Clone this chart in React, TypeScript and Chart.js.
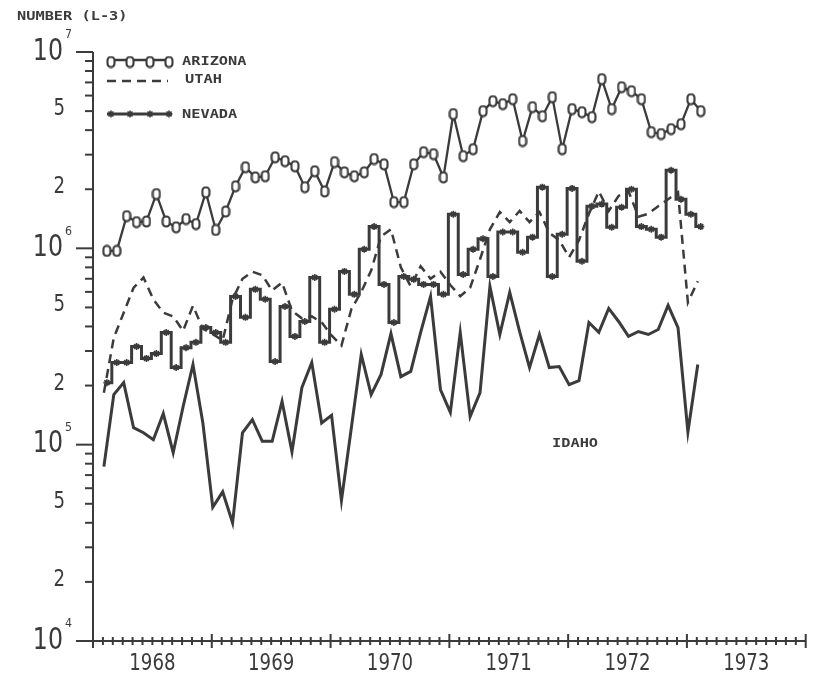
import { useEffect, useRef } from "react";
import { Chart, registerables } from "chart.js";
Chart.register(...registerables);

const INK = "#3b3b3b";

// ---- data (monthly, Jan 1968 .. Jan 1973) ----
const yearLabels = ["1968", "1969", "1970", "1971", "1972", "1973"];
const axisMonths = 72; // 1968.0 .. 1974.0
const offsetArizona = 1.4; // plotting position of point i, in months from 1968.0
const offsetIdaho = 1.1;

const arizona = [
  970000, 970000, 1460000, 1360000, 1370000, 1890000, 1370000, 1280000, 1410000, 1330000,
  1930000, 1240000, 1540000, 2070000, 2590000, 2300000, 2330000, 2910000, 2780000, 2620000,
  2050000, 2470000, 1950000, 2750000, 2440000, 2330000, 2440000, 2850000, 2680000, 1720000,
  1720000, 2680000, 3090000, 3020000, 2300000, 4830000, 2950000, 3200000, 5000000, 5620000,
  5430000, 5750000, 3520000, 5240000, 4710000, 5890000, 3200000, 5120000, 4940000, 4660000,
  7280000, 5120000, 6620000, 6320000, 5750000, 3910000, 3820000, 4050000, 4290000, 5750000, 5000000,
];
const utah = [
  184000, 350000, 470000, 630000, 710000, 550000, 470000, 450000, 380000, 510000,
  390000, 365000, 340000, 550000, 700000, 760000, 730000, 610000, 670000, 480000,
  440000, 450000, 420000, 360000, 320000, 490000, 600000, 770000, 1150000, 1250000,
  800000, 640000, 810000, 700000, 760000, 650000, 570000, 630000, 880000, 1250000,
  1530000, 1360000, 1550000, 1360000, 1530000, 1200000, 1100000, 900000, 1100000, 1500000,
  1950000, 1550000, 1850000, 1950000, 1450000, 1500000, 1640000, 1780000, 1930000, 530000, 680000,
];
const nevada = [
  207000, 262000, 262000, 316000, 275000, 291000, 373000, 247000, 312000, 332000,
  395000, 373000, 332000, 569000, 445000, 618000, 550000, 265000, 506000, 356000,
  424000, 711000, 332000, 489000, 763000, 583000, 990000, 1290000, 655000, 419000,
  719000, 695000, 655000, 655000, 583000, 1490000, 736000, 990000, 1120000, 719000,
  1210000, 1210000, 955000, 1140000, 2050000, 719000, 1180000, 2020000, 859000, 1640000,
  1680000, 1280000, 1620000, 2000000, 1290000, 1250000, 1140000, 2500000, 1780000, 1490000, 1290000,
];
const idaho = [
  77300, 180000, 207000, 122000, 115000, 106000, 144000, 91000, 156000, 256000,
  129000, 48000, 57500, 40000, 115000, 134000, 104000, 104000, 166000, 92000,
  195000, 262000, 129000, 141000, 52000, 122000, 288000, 180000, 228000, 368000,
  222000, 236000, 373000, 569000, 191000, 146000, 373000, 139000, 184000, 640000,
  364000, 597000, 377000, 247000, 364000, 247000, 250000, 202000, 212000, 419000,
  373000, 494000, 424000, 356000, 377000, 364000, 386000, 512000, 395000, 116000, 256000,
];
const decadeExponents = [4, 5, 6, 7];
const labelledMinors = [2, 5];

function toPoints(values: number[], offset: number) {
  return values.map((v, i) => ({ x: i + offset, y: v }));
}

function makeZero(): HTMLCanvasElement {
  const c = document.createElement("canvas");
  c.width = 10;
  c.height = 13;
  const g = c.getContext("2d")!;
  g.fillStyle = "#fff";
  g.strokeStyle = INK;
  g.lineWidth = 2.1;
  g.beginPath();
  (g as any).roundRect(1.5, 1.5, 7, 10, 3.2);
  g.fill();
  g.stroke();
  return c;
}

function txt(ctx: CanvasRenderingContext2D, s: string, x: number, y: number, font: string, sx: number, align: CanvasTextAlign) {
  ctx.save();
  ctx.translate(x, y);
  ctx.scale(sx, 1);
  ctx.font = font;
  ctx.textAlign = align;
  ctx.textBaseline = "middle";
  ctx.fillStyle = INK;
  ctx.fillText(s, 0, 0);
  ctx.restore();
}

function star(ctx: CanvasRenderingContext2D, x: number, y: number, r: number) {
  ctx.beginPath();
  ctx.moveTo(x - r, y); ctx.lineTo(x + r, y);
  ctx.moveTo(x, y - r); ctx.lineTo(x, y + r);
  const d = r * 0.707;
  ctx.moveTo(x - d, y - d); ctx.lineTo(x + d, y + d);
  ctx.moveTo(x - d, y + d); ctx.lineTo(x + d, y - d);
  ctx.stroke();
}

const LEGEND_FONT = 'bold 11.5px "DejaVu Sans Mono"';
const NUM_FONT = '30px "DejaVu Sans"';
const MID_FONT = '23px "DejaVu Sans"';
const SUP_FONT = '13px "DejaVu Sans"';

export default function App() {
  const ref = useRef<HTMLCanvasElement>(null);
  useEffect(() => {
    const zero = makeZero();
    const deco = {
      id: "deco",
      afterDraw(chart: any) {
        const ctx: CanvasRenderingContext2D = chart.ctx;
        const xs = chart.scales.x;
        const ys = chart.scales.y;
        const { left, right, top, bottom } = chart.chartArea;
        ctx.save();
        ctx.strokeStyle = INK;
        ctx.fillStyle = INK;
        ctx.lineWidth = 2;
        ctx.lineCap = "butt";
        // axes
        ctx.beginPath();
        ctx.moveTo(left, top);
        ctx.lineTo(left, bottom);
        ctx.lineTo(right, bottom);
        ctx.stroke();
        // y ticks
        for (const e of decadeExponents) {
          for (let m = 1; m <= 9; m++) {
            if (e === 7 && m > 1) break;
            const y = ys.getPixelForValue(m * Math.pow(10, e));
            const len = m === 1 ? 17 : 8;
            ctx.beginPath();
            ctx.moveTo(left - len, y);
            ctx.lineTo(left, y);
            ctx.stroke();
          }
        }
        // y labels
        for (const e of decadeExponents) {
          const y = ys.getPixelForValue(Math.pow(10, e));
          txt(ctx, "10", 63, y, NUM_FONT, 0.79, "right");
          txt(ctx, String(e), 65, y - 17, SUP_FONT, 0.85, "left");
          if (e < 7) {
            for (const m of labelledMinors) {
              const ym = ys.getPixelForValue(m * Math.pow(10, e));
              txt(ctx, String(m), 65, ym - 2, MID_FONT, 0.79, "right");
            }
          }
        }
        // x ticks
        for (let k = 0; k <= axisMonths; k++) {
          const x = xs.getPixelForValue(k);
          const len = k % 12 === 0 ? 7 : 4;
          ctx.beginPath();
          ctx.moveTo(x, bottom - len);
          ctx.lineTo(x, bottom + len);
          ctx.stroke();
        }
        yearLabels.forEach((yl, k) => {
          const x = xs.getPixelForValue(6 + 12 * k);
          txt(ctx, yl, x, 664, MID_FONT, 0.79, "center");
        });
        // titles
        txt(ctx, "NUMBER (L-3)", 17, 17, LEGEND_FONT, 1.33, "left");
        txt(ctx, "IDAHO", 552, 444, LEGEND_FONT, 1.33, "left");
        // legend
        const lx0 = left + 14, lx1 = left + 79;
        const marks = [4, 23, 43, 62];
        ctx.lineWidth = 2.3;
        ctx.beginPath(); ctx.moveTo(lx0, 60); ctx.lineTo(lx1, 60); ctx.stroke();
        for (const mx of marks) ctx.drawImage(zero, lx0 + mx - zero.width / 2, 62 - zero.height / 2);
        txt(ctx, "ARIZONA", 182, 62, LEGEND_FONT, 1.33, "left");
        ctx.setLineDash([9, 6]);
        ctx.beginPath(); ctx.moveTo(lx0, 81); ctx.lineTo(lx1 - 4, 81); ctx.stroke();
        ctx.setLineDash([]);
        txt(ctx, "UTAH", 185, 80, LEGEND_FONT, 1.33, "left");
        ctx.lineWidth = 3;
        ctx.beginPath(); ctx.moveTo(lx0, 114); ctx.lineTo(lx1, 114); ctx.stroke();
        ctx.lineWidth = 1.6;
        for (const mx of marks) star(ctx, lx0 + mx, 114, 3.5);
        txt(ctx, "NEVADA", 182, 115, LEGEND_FONT, 1.33, "left");
        ctx.restore();
      },
    };

    const chart = new Chart(ref.current!, {
      type: "line",
      data: {
        datasets: [
          {
            label: "ARIZONA",
            data: toPoints(arizona, offsetArizona),
            borderColor: INK,
            borderWidth: 2.3,
            pointStyle: zero as any,
            pointRadius: 5,
          },
          {
            label: "UTAH",
            data: toPoints(utah, offsetIdaho),
            borderColor: INK,
            borderWidth: 2.5,
            borderDash: [9, 6],
            pointRadius: 0,
          },
          {
            label: "NEVADA",
            data: toPoints(nevada, offsetArizona),
            borderColor: INK,
            borderWidth: 3,
            stepped: "middle",
            pointStyle: "star",
            pointRadius: 3.5,
            pointBorderWidth: 1.6,
            pointBorderColor: INK,
            pointBackgroundColor: INK,
          },
          {
            label: "IDAHO",
            data: toPoints(idaho, offsetIdaho),
            borderColor: INK,
            borderWidth: 3,
            pointRadius: 0,
          },
        ],
      },
      options: {
        responsive: false,
        animation: false,
        events: [],
        layout: { padding: { left: 93, top: 52, right: 6, bottom: 41 } },
        plugins: { legend: { display: false }, tooltip: { enabled: false } },
        scales: {
          x: { type: "linear", display: false, min: 0, max: axisMonths },
          y: { type: "logarithmic", display: false, min: 1e4, max: 1e7 },
        },
      } as any,
      plugins: [deco],
    });
    return () => chart.destroy();
  }, []);
  return (
    <div style={{ position: "fixed", left: 0, top: 0, width: 813, height: 682, background: "#fff" }}>
      <canvas ref={ref} width={813} height={682} style={{ display: "block" }} />
    </div>
  );
}
